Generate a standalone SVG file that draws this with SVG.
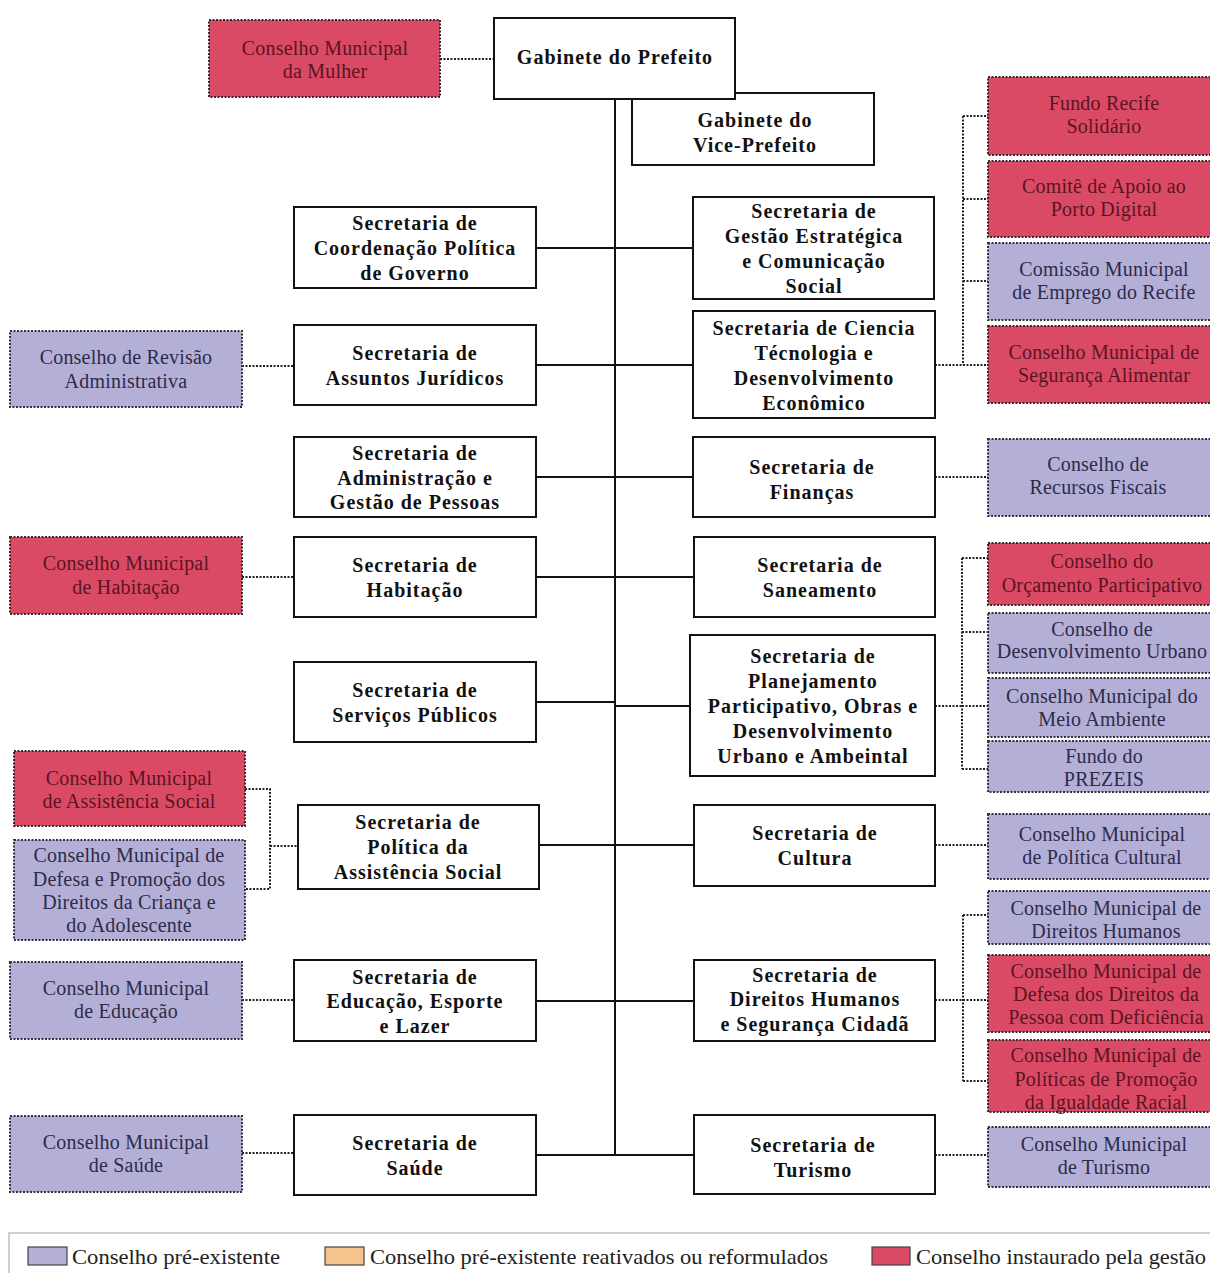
<svg xmlns="http://www.w3.org/2000/svg" width="1210" height="1273" viewBox="0 0 1210 1273">
<style>
.m rect{fill:#fff;stroke:#111;stroke-width:2}
.m text{font-family:"Liberation Serif",serif;font-weight:bold;font-size:20px;letter-spacing:1px;fill:#111;text-anchor:middle}
.r rect{fill:#DA4A64;stroke:#3a2a2e;stroke-width:2;stroke-dasharray:2 1.5}
.p rect{fill:#B4AFD7;stroke:#33323f;stroke-width:2;stroke-dasharray:2 1.5}
.r text,.p text{font-family:"Liberation Serif",serif;font-size:20px;letter-spacing:0.2px;text-anchor:middle}
.r text{fill:#5a1422}
.p text{fill:#2c2b48}
#connectors .s{stroke:#111;stroke-width:2;fill:none}
#connectors .d{stroke:#222;stroke-width:2;fill:none;stroke-dasharray:2 1.5}
.lg text{font-family:"Liberation Serif",serif;font-size:21px;fill:#222}
.lg rect{stroke:#444;stroke-width:1.2}
</style>
<rect width="1210" height="1273" fill="#fff"/>
<g id="connectors">
<path class="s" d="M615 99V1155"/>
<path class="s" d="M536 248H693M536 365H693M536 477H693M536 577H694M536 702H615M615 706H690M539 845H694M536 1001H694M536 1155H694"/>
<path class="d" d="M440 59H494M242 366H294M242 577H294M242 1000H294M242 1153H294"/>
<path class="d" d="M245 789H270V889H245M270 846H298"/>
<path class="d" d="M935 365H963M963 116V365M963 116H988M963 199H988M963 281H988M963 365H988"/>
<path class="d" d="M935 477H988"/>
<path class="d" d="M935 706H962M962 558V769M962 558H988M962 632H988M962 706H988M962 769H988"/>
<path class="d" d="M935 845H988M935 1155H988"/>
<path class="d" d="M935 1000H963M963 915V1081M963 915H988M963 1000H988M963 1081H988"/>
</g>
<g id="gabinete-vice" class="m"><rect x="632" y="93" width="242" height="72"/><text x="755"><tspan x="755" y="127">Gabinete do</tspan><tspan x="755" y="152">Vice-Prefeito</tspan></text></g>
<g id="gabinete-prefeito" class="m"><rect x="494" y="18" width="241" height="81"/><text x="615" y="64">Gabinete do Prefeito</text></g>
<g id="sec-coordenacao" class="m"><rect x="294" y="207" width="242" height="81"/><text x="415"><tspan x="415" y="230">Secretaria de</tspan><tspan x="415" y="255">Coordenação Política</tspan><tspan x="415" y="280">de Governo</tspan></text></g>
<g id="sec-juridicos" class="m"><rect x="294" y="325" width="242" height="80"/><text x="415"><tspan x="415" y="360">Secretaria de</tspan><tspan x="415" y="385">Assuntos Jurídicos</tspan></text></g>
<g id="sec-administracao" class="m"><rect x="294" y="437" width="242" height="80"/><text x="415"><tspan x="415" y="460">Secretaria de</tspan><tspan x="415" y="485">Administração e</tspan><tspan x="415" y="509">Gestão de Pessoas</tspan></text></g>
<g id="sec-habitacao" class="m"><rect x="294" y="537" width="242" height="80"/><text x="415"><tspan x="415" y="572">Secretaria de</tspan><tspan x="415" y="597">Habitação</tspan></text></g>
<g id="sec-servicos" class="m"><rect x="294" y="662" width="242" height="80"/><text x="415"><tspan x="415" y="697">Secretaria de</tspan><tspan x="415" y="722">Serviços Públicos</tspan></text></g>
<g id="sec-assistencia" class="m"><rect x="298" y="805" width="241" height="84"/><text x="418"><tspan x="418" y="829">Secretaria de</tspan><tspan x="418" y="854">Política da</tspan><tspan x="418" y="879">Assistência Social</tspan></text></g>
<g id="sec-educacao" class="m"><rect x="294" y="960" width="242" height="81"/><text x="415"><tspan x="415" y="984">Secretaria de</tspan><tspan x="415" y="1008">Educação, Esporte</tspan><tspan x="415" y="1033">e Lazer</tspan></text></g>
<g id="sec-saude" class="m"><rect x="294" y="1115" width="242" height="80"/><text x="415"><tspan x="415" y="1150">Secretaria de</tspan><tspan x="415" y="1175">Saúde</tspan></text></g>
<g id="sec-gestao" class="m"><rect x="693" y="197" width="241" height="102"/><text x="814"><tspan x="814" y="218">Secretaria de</tspan><tspan x="814" y="243">Gestão Estratégica</tspan><tspan x="814" y="268">e Comunicação</tspan><tspan x="814" y="293">Social</tspan></text></g>
<g id="sec-ciencia" class="m"><rect x="693" y="311" width="242" height="107"/><text x="814"><tspan x="814" y="335">Secretaria de  Ciencia</tspan><tspan x="814" y="360">Técnologia e</tspan><tspan x="814" y="385">Desenvolvimento</tspan><tspan x="814" y="410">Econômico</tspan></text></g>
<g id="sec-financas" class="m"><rect x="693" y="437" width="242" height="80"/><text x="812"><tspan x="812" y="474">Secretaria de</tspan><tspan x="812" y="499">Finanças</tspan></text></g>
<g id="sec-saneamento" class="m"><rect x="694" y="537" width="241" height="80"/><text x="820"><tspan x="820" y="572">Secretaria de</tspan><tspan x="820" y="597">Saneamento</tspan></text></g>
<g id="sec-planejamento" class="m"><rect x="690" y="635" width="245" height="141"/><text x="813"><tspan x="813" y="663">Secretaria de</tspan><tspan x="813" y="688">Planejamento</tspan><tspan x="813" y="713">Participativo, Obras e</tspan><tspan x="813" y="738">Desenvolvimento</tspan><tspan x="813" y="763">Urbano e Ambeintal</tspan></text></g>
<g id="sec-cultura" class="m"><rect x="694" y="805" width="241" height="81"/><text x="815"><tspan x="815" y="840">Secretaria de</tspan><tspan x="815" y="865">Cultura</tspan></text></g>
<g id="sec-direitos" class="m"><rect x="694" y="960" width="241" height="81"/><text x="815"><tspan x="815" y="982">Secretaria de</tspan><tspan x="815" y="1006">Direitos Humanos</tspan><tspan x="815" y="1031">e Segurança Cidadã</tspan></text></g>
<g id="sec-turismo" class="m"><rect x="694" y="1115" width="241" height="79"/><text x="813"><tspan x="813" y="1152">Secretaria de</tspan><tspan x="813" y="1177">Turismo</tspan></text></g>
<g id="cm-mulher" class="r"><rect x="209" y="20" width="231" height="77"/><text x="325"><tspan x="325" y="55">Conselho Municipal</tspan><tspan x="325" y="78">da Mulher</tspan></text></g>
<g id="c-revisao" class="p"><rect x="10" y="331" width="232" height="76"/><text x="126"><tspan x="126" y="364">Conselho de Revisão</tspan><tspan x="126" y="388">Administrativa</tspan></text></g>
<g id="cm-habitacao" class="r"><rect x="10" y="537" width="232" height="77"/><text x="126"><tspan x="126" y="570">Conselho Municipal</tspan><tspan x="126" y="594">de Habitação</tspan></text></g>
<g id="cm-assistencia" class="r"><rect x="14" y="751" width="231" height="75"/><text x="129"><tspan x="129" y="785">Conselho Municipal</tspan><tspan x="129" y="808">de Assistência Social</tspan></text></g>
<g id="cm-crianca" class="p"><rect x="14" y="840" width="231" height="100"/><text x="129"><tspan x="129" y="862">Conselho Municipal de</tspan><tspan x="129" y="886">Defesa e Promoção dos</tspan><tspan x="129" y="909">Direitos da Criança e</tspan><tspan x="129" y="932">do Adolescente</tspan></text></g>
<g id="cm-educacao" class="p"><rect x="10" y="962" width="232" height="77"/><text x="126"><tspan x="126" y="995">Conselho Municipal</tspan><tspan x="126" y="1018">de Educação</tspan></text></g>
<g id="cm-saude" class="p"><rect x="10" y="1116" width="232" height="76"/><text x="126"><tspan x="126" y="1149">Conselho Municipal</tspan><tspan x="126" y="1172">de Saúde</tspan></text></g>
<g id="f-recife" class="r"><rect x="988" y="77" width="230" height="78"/><text x="1104"><tspan x="1104" y="110">Fundo Recife</tspan><tspan x="1104" y="133">Solidário</tspan></text></g>
<g id="c-porto" class="r"><rect x="988" y="161" width="230" height="76"/><text x="1104"><tspan x="1104" y="193">Comitê de Apoio ao</tspan><tspan x="1104" y="216">Porto Digital</tspan></text></g>
<g id="c-emprego" class="p"><rect x="988" y="243" width="230" height="77"/><text x="1104"><tspan x="1104" y="276">Comissão Municipal</tspan><tspan x="1104" y="299">de Emprego do Recife</tspan></text></g>
<g id="cm-seguranca" class="r"><rect x="988" y="326" width="230" height="77"/><text x="1104"><tspan x="1104" y="359">Conselho Municipal de</tspan><tspan x="1104" y="382">Segurança Alimentar</tspan></text></g>
<g id="c-fiscais" class="p"><rect x="988" y="439" width="230" height="77"/><text x="1098"><tspan x="1098" y="471">Conselho de</tspan><tspan x="1098" y="494">Recursos Fiscais</tspan></text></g>
<g id="c-orcamento" class="r"><rect x="988" y="543" width="230" height="62"/><text x="1102"><tspan x="1102" y="568">Conselho do</tspan><tspan x="1102" y="592">Orçamento Participativo</tspan></text></g>
<g id="c-urbano" class="p"><rect x="988" y="613" width="230" height="60"/><text x="1102"><tspan x="1102" y="636">Conselho de</tspan><tspan x="1102" y="658">Desenvolvimento Urbano</tspan></text></g>
<g id="cm-ambiente" class="p"><rect x="988" y="678" width="230" height="59"/><text x="1102"><tspan x="1102" y="703">Conselho Municipal do</tspan><tspan x="1102" y="726">Meio Ambiente</tspan></text></g>
<g id="f-prezeis" class="p"><rect x="988" y="741" width="230" height="51"/><text x="1104"><tspan x="1104" y="763">Fundo do</tspan><tspan x="1104" y="786">PREZEIS</tspan></text></g>
<g id="cm-cultural" class="p"><rect x="988" y="814" width="230" height="65"/><text x="1102"><tspan x="1102" y="841">Conselho Municipal</tspan><tspan x="1102" y="864">de Política Cultural</tspan></text></g>
<g id="cm-humanos" class="p"><rect x="988" y="891" width="230" height="53"/><text x="1106"><tspan x="1106" y="915">Conselho Municipal de</tspan><tspan x="1106" y="938">Direitos Humanos</tspan></text></g>
<g id="cm-deficiencia" class="r"><rect x="988" y="955" width="230" height="77"/><text x="1106"><tspan x="1106" y="978">Conselho Municipal de</tspan><tspan x="1106" y="1001">Defesa dos Direitos da</tspan><tspan x="1106" y="1024">Pessoa com Deficiência</tspan></text></g>
<g id="cm-racial" class="r"><rect x="988" y="1040" width="230" height="72"/><text x="1106"><tspan x="1106" y="1062">Conselho Municipal de</tspan><tspan x="1106" y="1086">Políticas de Promoção</tspan><tspan x="1106" y="1109">da Igualdade Racial</tspan></text></g>
<g id="cm-turismo" class="p"><rect x="988" y="1127" width="230" height="60"/><text x="1104"><tspan x="1104" y="1151">Conselho Municipal</tspan><tspan x="1104" y="1174">de Turismo</tspan></text></g>
<g id="legend" class="lg">
<path d="M9 1273V1233H1210" fill="none" stroke="#cfcfcf" stroke-width="2"/>
<rect x="28" y="1247" width="39" height="18" fill="#B4AFD7"/>
<text x="72" y="1264" textLength="208" lengthAdjust="spacingAndGlyphs">Conselho pré-existente</text>
<rect x="325" y="1247" width="39" height="18" fill="#F6C28E"/>
<text x="370" y="1264" textLength="458" lengthAdjust="spacingAndGlyphs">Conselho pré-existente reativados ou reformulados</text>
<rect x="872" y="1247" width="38" height="18" fill="#DA4A64"/>
<text x="916" y="1264" textLength="290" lengthAdjust="spacingAndGlyphs">Conselho instaurado pela gestão</text>
</g>
</svg>
